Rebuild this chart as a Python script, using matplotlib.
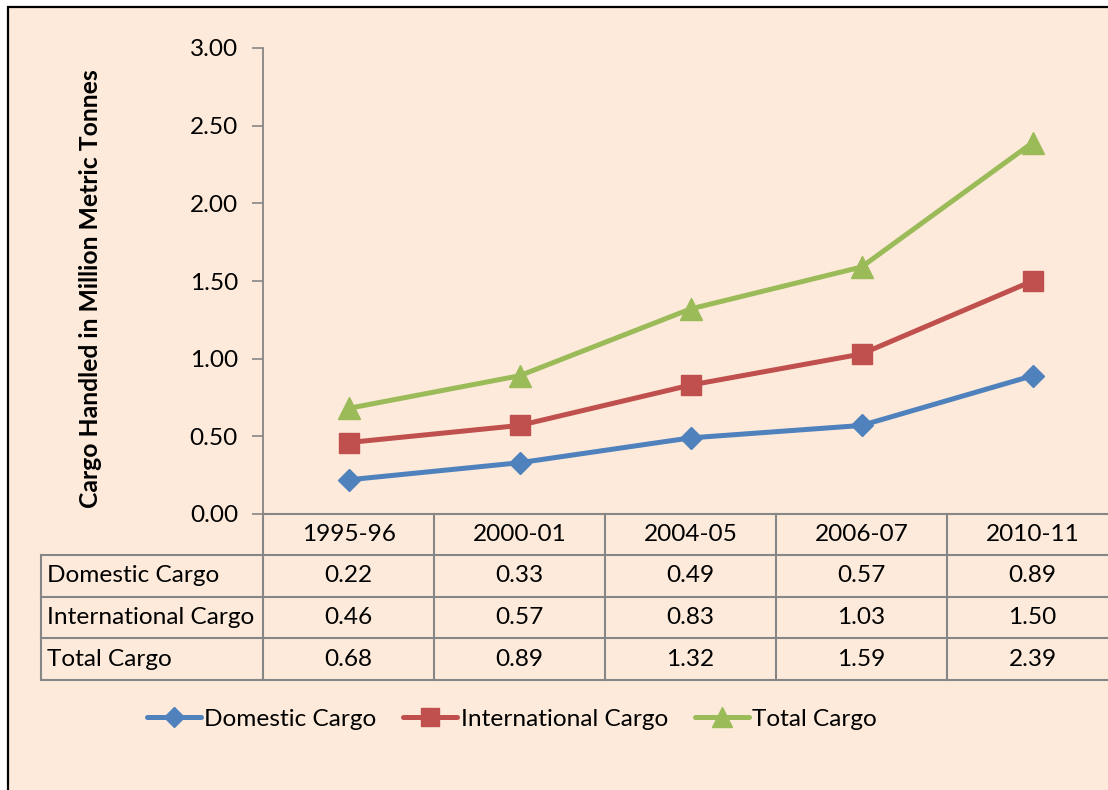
import matplotlib
matplotlib.use("Agg")
import matplotlib.pyplot as plt
from matplotlib.patches import Rectangle
from matplotlib.lines import Line2D
from matplotlib.transforms import blended_transform_factory

categories = ["1995-96", "2000-01", "2004-05", "2006-07", "2010-11"]
domestic = [0.22, 0.33, 0.49, 0.57, 0.89]
international = [0.46, 0.57, 0.83, 1.03, 1.50]
total = [0.68, 0.89, 1.32, 1.59, 2.39]
series_names = ["Domestic Cargo", "International Cargo", "Total Cargo"]
yticks = [0.0, 0.5, 1.0, 1.5, 2.0, 2.5, 3.0]
ylabel = "Cargo Handled in Million Metric Tonnes"

BG = "#FDEADA"
GRID = "#868686"
colors = ["#4F81BD", "#C0504D", "#9BBB59"]
markers = ["D", "s", "^"]
msizes = [11.5, 14.5, 15.5]
FONT = "Lato"
FS = 17.6

W, H = 1108, 790
fig = plt.figure(figsize=(W / 100, H / 100), dpi=100, facecolor="white")

# background box with border
fig.add_artist(Rectangle((8 / W, -0.05), 1.1, (H - 7) / H + 0.05, transform=fig.transFigure,
                         facecolor=BG, edgecolor="black", linewidth=1.6, zorder=-1))

px = lambda x: x / W
py = lambda y: (H - y) / H

ax_left, ax_right, ax_top, ax_bottom = 263, 1118, 48, 514
ax = fig.add_axes([px(ax_left), py(ax_bottom), px(ax_right - ax_left), (ax_bottom - ax_top) / H])
ax.set_facecolor("none")
ax.set_xlim(-0.5, len(categories) - 0.5)
ax.set_ylim(0, 3)

xs = list(range(len(categories)))
for vals, c, m, ms, name in zip([domestic, international, total], colors, markers, msizes, series_names):
    ax.plot(xs, vals, color=c, lw=3.6, marker=m, markersize=ms, markeredgecolor=c,
            label=name, solid_capstyle="round", clip_on=False)

ax.set_yticks(yticks)
ax.set_yticklabels([f"{v:.2f}" for v in yticks], fontfamily=FONT, fontsize=FS)
ax.tick_params(axis="y", direction="out", length=8, width=1.2, color=GRID, pad=10)
ax.set_xticks([])
for s in ["top", "right"]:
    ax.spines[s].set_visible(False)
ax.spines["left"].set_color(GRID)
ax.spines["bottom"].set_color(GRID)
ax.spines["left"].set_linewidth(1.3)
ax.spines["bottom"].set_linewidth(1.3)
ax.spines["left"].set_bounds(0, 3)

fig.text(px(91), py(289), ylabel, rotation=90, ha="center", va="center",
         fontfamily=FONT, fontsize=17.8, fontweight="bold")

# overlay for table
ov = fig.add_axes([0, 0, 1, 1])
ov.set_xlim(0, W)
ov.set_ylim(H, 0)
ov.axis("off")
ov.set_facecolor("none")

row_edges = [514, 555, 597, 638, 680]
tbl_left = 41
lc = dict(color=GRID, lw=1.5)
# horizontal lines
ov.plot([ax_left, W + 10], [row_edges[0]] * 2, **lc)
for y in row_edges[1:]:
    ov.plot([tbl_left, W + 10], [y, y], **lc)
ov.plot([tbl_left, tbl_left], [row_edges[1], row_edges[-1]], **lc)
ov.plot([ax_left, ax_left], [ax_bottom, row_edges[-1]], **lc)

bt = blended_transform_factory(ax.transData, ov.transData)
for i in range(1, len(categories)):
    ov.plot([i - 0.5, i - 0.5], [row_edges[0], row_edges[-1]], transform=bt, **lc)

tkw = dict(fontfamily=FONT, fontsize=FS, va="center")
for i, cat in enumerate(categories):
    ov.text(i, (row_edges[0] + row_edges[1]) / 2, cat, ha="center", transform=bt, **tkw)
for r, (name, vals) in enumerate(zip(series_names, [domestic, international, total])):
    yc = (row_edges[r + 1] + row_edges[r + 2]) / 2
    ov.text(47, yc, name, ha="left", **tkw)
    for i, v in enumerate(vals):
        ov.text(i, yc, f"{v:.2f}", ha="center", transform=bt, **tkw)

handles = [Line2D([], [], color=c, lw=3.6, marker=m, markersize=ms * 0.9, solid_capstyle="round")
           for c, m, ms in zip(colors, markers, msizes)]
fig.legend(handles, series_names, loc="center", bbox_to_anchor=(px(512), py(719)), ncol=3,
           frameon=False, prop={"family": FONT, "size": FS}, handlelength=2.2,
           handletextpad=0.15, columnspacing=1.1)

fig.savefig("out.png", dpi=100, facecolor="white")
